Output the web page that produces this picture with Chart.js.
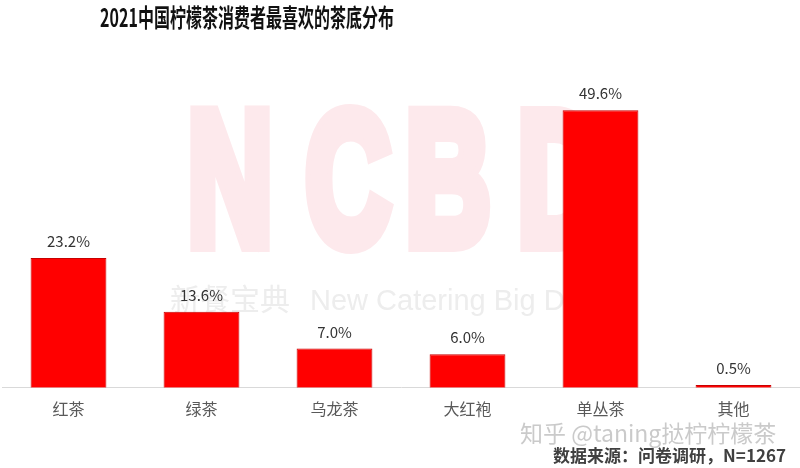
<!DOCTYPE html>
<html>
<head>
<meta charset="utf-8">
<script src="https://cdn.jsdelivr.net/npm/chart.js@4/dist/chart.umd.min.js"></script>
<style>
  html, body { margin: 0; padding: 0; background: #fff; }
  #wrap { width: 800px; height: 468px; position: relative; }
</style>
</head>
<body>
<div id="wrap"><canvas id="grafico"></canvas></div>
<script>
// ===== DATOS =====
const titulo = '2021中国柠檬茶消费者最喜欢的茶底分布';
const categorias = ['红茶', '绿茶', '乌龙茶', '大红袍', '单丛茶', '其他'];
const valores = [23.2, 13.6, 7.0, 6.0, 49.6, 0.5];
const fuente = '数据来源：问卷调研，N=1267';
const marcaZhihu = '知乎 @taning挞柠柠檬茶';

const FUENTE_BASE = "'Noto Sans CJK SC', 'Noto Sans', sans-serif";

// ===== PLUGIN: marcas de agua (detrás de las barras) =====
const marcasAgua = {
    id: 'marcasAgua',
    beforeDatasetsDraw(chart) {
        const ctx = chart.ctx;
        ctx.save();
        // NCBD grande en rosa
        ctx.fillStyle = '#fde9ec';
        ctx.strokeStyle = '#fde9ec';
        ctx.lineJoin = 'miter';
        ctx.font = "bold 190px 'Liberation Sans', sans-serif";
        ctx.textAlign = 'center';
        ctx.textBaseline = 'alphabetic';
        const letras = ['N', 'C', 'B', 'D'];
        const centros = [230, 348, 448, 560];
        letras.forEach((l, i) => {
            ctx.save();
            ctx.translate(centros[i], 244);
            ctx.scale(0.62, 1);
            ctx.lineWidth = 16;
            ctx.strokeText(l, 0, 0);
            ctx.fillText(l, 0, 0);
            ctx.restore();
        });
        // texto gris
        ctx.fillStyle = '#ededed';
        ctx.font = "30px " + FUENTE_BASE;
        ctx.textAlign = 'right';
        ctx.fillText('新餐宝典', 290, 310);
        ctx.font = "29px 'Liberation Sans', sans-serif";
        ctx.textAlign = 'left';
        ctx.fillText('New Catering Big Data', 310, 310);
        ctx.restore();
    },
    afterDraw(chart) {
        const ctx = chart.ctx;
        ctx.save();
        // título (fuente condensada)
        ctx.fillStyle = '#111';
        ctx.font = "bold 25px " + FUENTE_BASE;
        ctx.textAlign = 'center';
        ctx.textBaseline = 'middle';
        ctx.translate(247, 17);
        ctx.scale(0.64, 1);
        ctx.fillText(titulo, 0, 0);
        ctx.restore();

        ctx.save();
        // marca zhihu
        ctx.fillStyle = 'rgba(150,150,150,0.5)';
        ctx.font = "23px " + FUENTE_BASE;
        ctx.textAlign = 'left';
        ctx.textBaseline = 'middle';
        ctx.fillText(marcaZhihu, 520, 433);
        // fuente
        ctx.fillStyle = '#404040';
        ctx.font = "bold 17px " + FUENTE_BASE;
        ctx.textAlign = 'right';
        ctx.fillText(fuente, 786, 456);
        ctx.restore();
    }
};

// ===== PLUGIN: etiquetas de valor =====
const etiquetasValor = {
    id: 'etiquetasValor',
    afterDatasetsDraw(chart) {
        const ctx = chart.ctx;
        const meta = chart.getDatasetMeta(0);
        ctx.save();
        ctx.fillStyle = '#333';
        ctx.font = "15px " + FUENTE_BASE;
        ctx.textAlign = 'center';
        ctx.textBaseline = 'bottom';
        meta.data.forEach((bar, i) => {
            ctx.fillText(valores[i].toFixed(1) + '%', bar.x, bar.y - 9);
        });
        ctx.restore();
    }
};

// ===== GRÁFICO =====
const ctxGrafico = document.getElementById('grafico').getContext('2d');
new Chart(ctxGrafico, {
    type: 'bar',
    data: {
        labels: categorias,
        datasets: [{
            data: valores,
            backgroundColor: '#ff0000',
            borderColor: '#c80000',
            borderWidth: 1,
            barPercentage: 0.57,
            categoryPercentage: 1.0
        }]
    },
    options: {
        responsive: true,
        maintainAspectRatio: false,
        animation: false,
        layout: {
            padding: { top: 52, left: 2, right: 0, bottom: 37 }
        },
        plugins: {
            legend: { display: false },
            tooltip: { enabled: false }
        },
        scales: {
            x: {
                grid: { display: false, drawTicks: false },
                border: { display: true, color: '#d9d9d9', width: 1 },
                ticks: {
                    color: '#595959',
                    padding: 12,
                    font: { family: FUENTE_BASE, size: 16 }
                }
            },
            y: {
                display: false,
                min: 0,
                max: 60
            }
        }
    },
    plugins: [marcasAgua, etiquetasValor]
});
</script>
</body>
</html>
